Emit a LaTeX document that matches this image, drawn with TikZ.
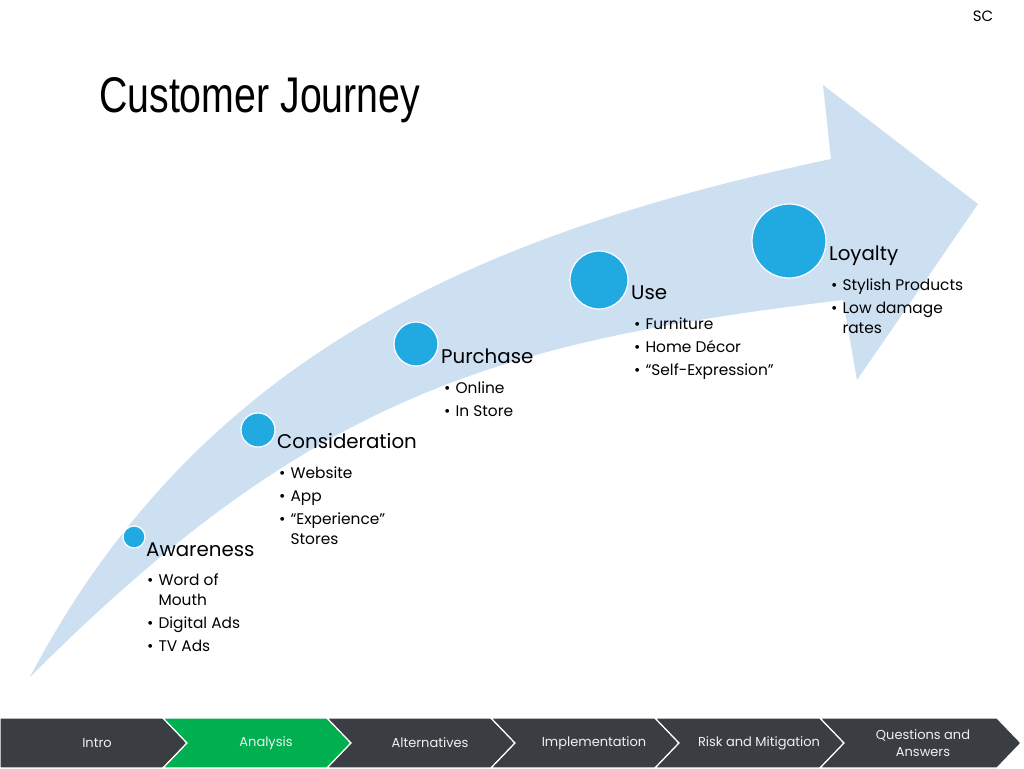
\documentclass[tikz,border=0pt]{standalone}
\usepackage{fontspec}
\usepackage{graphicx}
\setmainfont{Poppins}
\newfontfamily\titlefont{Liberation Sans}
\definecolor{bandblue}{RGB}{205,224,242}
\definecolor{dotblue}{RGB}{33,169,225}
\definecolor{bardark}{RGB}{58,61,65}
\definecolor{bargreen}{RGB}{0,176,80}
\definecolor{bartxt}{RGB}{240,240,240}
\begin{document}
\begin{tikzpicture}[x=1pt,y=-1pt,
  stagedot/.style={circle, fill=dotblue, draw=white, line width=1.2pt, inner sep=0pt},
  stagetitle/.style={anchor=base west, inner sep=0pt, font=\fontsize{19.8}{22}\selectfont, text=black},
  bullets/.style={anchor=base west, inner sep=0pt, font=\fontsize{15.4}{20}\selectfont, text=black},
  barseg/.style={fill=bardark, draw=white, line width=1.2pt},
  bartext/.style={text=bartxt, font=\fontsize{13}{17}\selectfont, align=center, inner sep=0pt}
]
\useasboundingbox (0,0) rectangle (1024,768);
\fill[white] (0,0) rectangle (1024,768);

% curved arrow band
\fill[bandblue]
  (30,677) .. controls (200,354) and (481,233) .. (831,159)
  -- (823,85) -- (978,204) -- (857,380) -- (843,300)
  .. controls (493,342) and (310,397) .. (30,677)
  -- cycle;

% title and corner mark
\node (title) [anchor=base west, inner sep=0pt] at (99,112) {\resizebox{321pt}{35pt}{\titlefont Customer Journey}};
\node (sc) [inner sep=0pt, font=\fontsize{15}{18}\selectfont] at (983,16) {SC};

% stage dots
\node[stagedot, minimum size=22pt] (d1) at (134,537) {};
\node[stagedot, minimum size=34pt] (d2) at (258,430) {};
\node[stagedot, minimum size=44pt] (d3) at (416,344) {};
\node[stagedot, minimum size=58pt] (d4) at (599,280) {};
\node[stagedot, minimum size=74pt] (d5) at (789,241) {};

% stage titles
\node[stagetitle] (t1) at (146,556) {Awareness};
\node[stagetitle] (t2) at (277,448) {Consideration};
\node[stagetitle] (t3) at (441,363) {Purchase};
\node[stagetitle] (t4) at (631,299) {Use};
\node[stagetitle] (t5) at (829,260) {Loyalty};

% bullet lists
\node[bullets] (b1) at (147,585) {\begin{tabular}[t]{@{}l@{\hspace{5pt}}l@{}}\textbullet & Word of\\ & Mouth\\[3pt] \textbullet & Digital Ads\\[3pt] \textbullet & TV Ads\end{tabular}};
\node[bullets] (b2) at (279,478) {\begin{tabular}[t]{@{}l@{\hspace{5pt}}l@{}}\textbullet & Website\\[3pt] \textbullet & App\\[3pt] \textbullet & “Experience”\\ & Stores\end{tabular}};
\node[bullets] (b3) at (444,393) {\begin{tabular}[t]{@{}l@{\hspace{5pt}}l@{}}\textbullet & Online\\[3pt] \textbullet & In Store\end{tabular}};
\node[bullets] (b4) at (634,329) {\begin{tabular}[t]{@{}l@{\hspace{5pt}}l@{}}\textbullet & Furniture\\[3pt] \textbullet & Home Décor\\[3pt] \textbullet & “Self-Expression”\end{tabular}};
\node[bullets] (b5) at (831,290) {\begin{tabular}[t]{@{}l@{\hspace{5pt}}l@{}}\textbullet & Stylish Products\\[3pt] \textbullet & Low damage\\ & rates\end{tabular}};

% navigation bar
\draw[barseg] (0,718) -- (163,718) -- (187,743) -- (163,768) -- (0,768) -- cycle;
\draw[barseg, fill=bargreen] (163,718) -- (327,718) -- (351,743) -- (327,768) -- (163,768) -- (187,743) -- cycle;
\draw[barseg] (327,718) -- (491,718) -- (515,743) -- (491,768) -- (327,768) -- (351,743) -- cycle;
\draw[barseg] (491,718) -- (655,718) -- (679,743) -- (655,768) -- (491,768) -- (515,743) -- cycle;
\draw[barseg] (655,718) -- (820,718) -- (844,743) -- (820,768) -- (655,768) -- (679,743) -- cycle;
\draw[barseg] (820,718) -- (997,718) -- (1021,743) -- (997,768) -- (820,768) -- (844,743) -- cycle;

\node[bartext] (n1) at (97,743) {Intro};
\node[bartext] (n2) at (266,743) {Analysis};
\node[bartext] (n3) at (430,743) {Alternatives};
\node[bartext] (n4) at (594,743) {Implementation};
\node[bartext] (n5) at (759,743) {Risk and Mitigation};
\node[bartext] (n6) at (923,743) {Questions and\\Answers};
\end{tikzpicture}
\end{document}
